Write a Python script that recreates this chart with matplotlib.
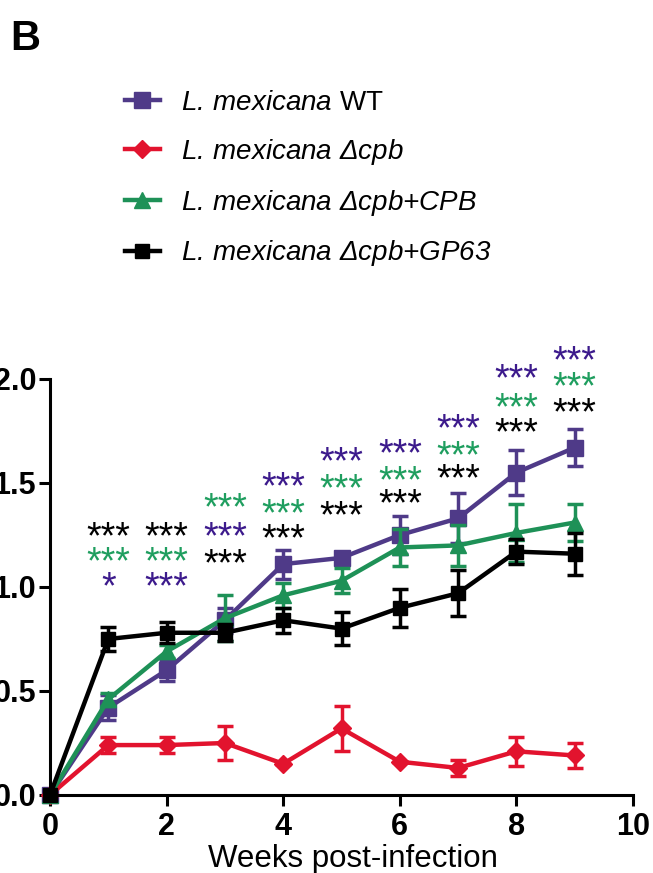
import numpy as np
import matplotlib
matplotlib.use('Agg')
import matplotlib.pyplot as plt

plt.rcParams['font.family'] = ['Liberation Sans', 'DejaVu Sans']
plt.rcParams['mathtext.fontset'] = 'custom'
plt.rcParams['mathtext.rm'] = 'Liberation Sans:italic'
plt.rcParams['mathtext.it'] = 'Liberation Sans:italic'
plt.rcParams['mathtext.sf'] = 'Liberation Sans'

# weeks post-infection
weeks = [0, 1, 2, 3, 4, 5, 6, 7, 8, 9]

# L. mexicana WT
wt = [0.0, 0.42, 0.60, 0.84, 1.11, 1.14, 1.25, 1.33, 1.55, 1.67]
wt_err = [0.0, 0.06, 0.05, 0.06, 0.07, 0.03, 0.09, 0.12, 0.11, 0.09]
# L. mexicana delta cpb
cpb = [0.0, 0.24, 0.24, 0.25, 0.15, 0.32, 0.16, 0.13, 0.21, 0.19]
cpb_err = [0.0, 0.04, 0.04, 0.08, 0.0, 0.11, 0.0, 0.04, 0.07, 0.06]
# delta cpb + CPB
cpb_add = [0.0, 0.46, 0.69, 0.85, 0.96, 1.03, 1.19, 1.20, 1.26, 1.31]
cpb_add_err = [0.0, 0.03, 0.03, 0.11, 0.06, 0.06, 0.09, 0.10, 0.14, 0.09]
# delta cpb + GP63
gp63 = [0.0, 0.75, 0.78, 0.78, 0.84, 0.80, 0.90, 0.97, 1.17, 1.16]
gp63_err = [0.0, 0.06, 0.05, 0.04, 0.06, 0.08, 0.09, 0.11, 0.06, 0.10]

labels = [r'$L.\,mexicana\ \mathsf{WT}$',
          r'$L.\,mexicana\ \Delta cpb$',
          r'$L.\,mexicana\ \Delta cpb{+}CPB$',
          r'$L.\,mexicana\ \Delta cpb{+}GP63$']

# significance stars above each week (visual centre height)
star_weeks = [1, 2, 3, 4, 5, 6, 7, 8, 9]
wt_stars = ['*', '***', '***', '***', '***', '***', '***', '***', '***']
wt_star_y = [1.05, 1.05, 1.29, 1.53, 1.65, 1.69, 1.81, 2.05, 2.135]
add_stars = ['***'] * 9
add_star_y = [1.17, 1.17, 1.43, 1.40, 1.52, 1.56, 1.68, 1.91, 2.01]
gp_stars = ['***'] * 9
gp_star_y = [1.29, 1.29, 1.16, 1.28, 1.39, 1.45, 1.57, 1.79, 1.885]

purple = '#4f3a88'
red = '#e2132e'
green = '#1e9157'
star_purple = '#3c1a8c'
star_green = '#1f9e5f'

fig = plt.figure(figsize=(6.53, 8.73), dpi=100)
ax = fig.add_axes([50/653, 78/873, 583/653, 416/873])

series = [(wt, wt_err, purple, 's', 11),
          (cpb, cpb_err, red, 'D', 9),
          (cpb_add, cpb_add_err, green, '^', 12),
          (gp63, gp63_err, 'black', 's', 10)]
for (vals, err, col, mk, ms), lab in zip(series, labels):
    ax.plot(weeks, vals, color=col, lw=3.2, marker=mk, ms=ms, clip_on=False, label=lab)
    ax.errorbar(weeks[1:], vals[1:], yerr=err[1:], fmt='none', ecolor=col,
                elinewidth=2.5, capsize=6, capthick=2.5, clip_on=False)

fs = 27
for stars, ys, col in [(wt_stars, wt_star_y, star_purple),
                       (add_stars, add_star_y, star_green),
                       (gp_stars, gp_star_y, 'black')]:
    for x, s, y in zip(star_weeks, stars, ys):
        ax.annotate(s, (x, y), xytext=(0, -0.58*fs), textcoords='offset points',
                    ha='center', va='baseline', color=col, fontsize=fs,
                    annotation_clip=False)

ax.set_xlim(0, 10)
ax.set_ylim(0, 2.0)
ax.set_xticks([0, 2, 4, 6, 8, 10])
ax.set_yticks([0.0, 0.5, 1.0, 1.5, 2.0])
ax.set_yticklabels(['0.0', '0.5', '1.0', '1.5', '2.0'])
for sp in ['top', 'right']:
    ax.spines[sp].set_visible(False)
for sp in ['left', 'bottom']:
    ax.spines[sp].set_linewidth(2.2)
ax.tick_params(width=2.2, length=8, labelsize=22, direction='out')
ax.tick_params(axis='x', pad=4)
ax.tick_params(axis='y', pad=2)
for t in ax.get_xticklabels() + ax.get_yticklabels():
    t.set_fontweight('bold')
ax.set_xlabel('Weeks post-infection', fontsize=22.5, labelpad=2)
ax.xaxis.label.set_x((353 - 50) / 583)

fig.legend(loc='upper left', bbox_to_anchor=(125/653, 1 - 90/873), frameon=False,
           fontsize=20, handlelength=1.25, handletextpad=0.75, labelspacing=0.75,
           borderpad=0, borderaxespad=0)

fig.text(10/653, 1 - 50/873, 'B', fontsize=30, fontweight='bold', va='baseline')

fig.savefig('out.png', dpi=100)
